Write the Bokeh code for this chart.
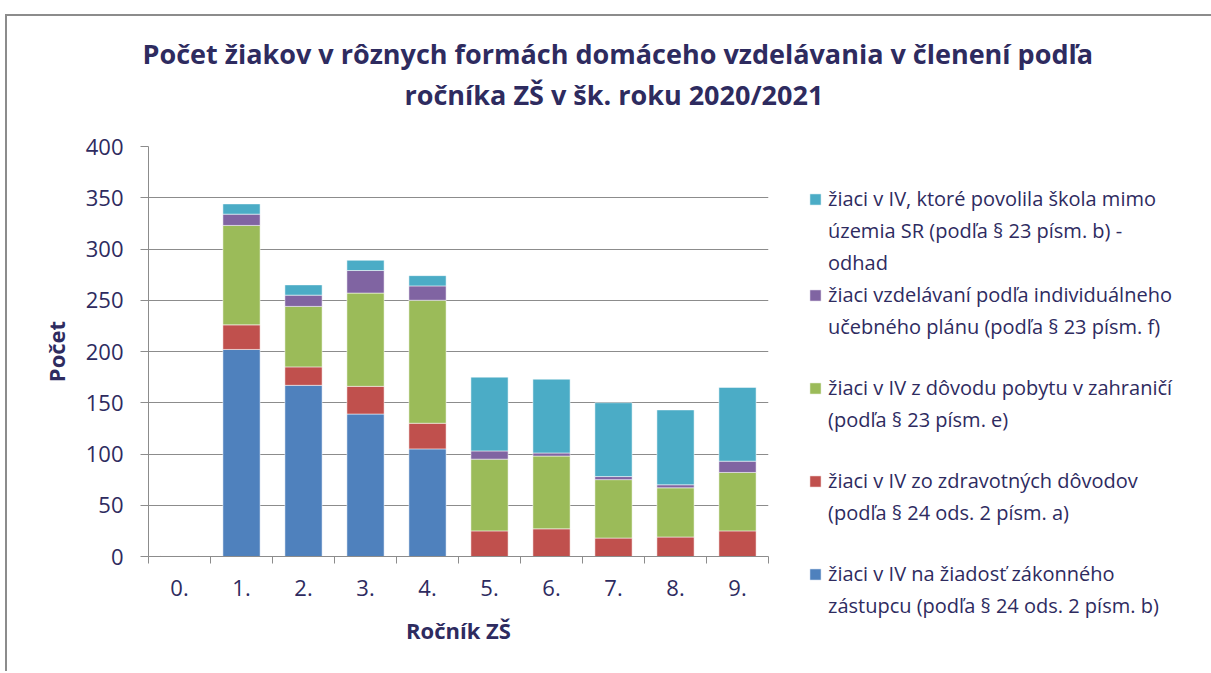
from bokeh.plotting import figure
from bokeh.models import Range1d, FixedTicker, Legend, LegendItem, Title, ColumnDataSource
from bokeh.embed import file_html
from bokeh.resources import INLINE

categories = ["0.", "1.", "2.", "3.", "4.", "5.", "6.", "7.", "8.", "9."]
na_ziadost = [0, 202, 167, 139, 105, 0, 0, 0, 0, 0]
zdravotne = [1, 24, 18, 27, 25, 25, 27, 18, 19, 25]
zahranicie = [0, 97, 59, 91, 120, 70, 71, 57, 48, 57]
ivp = [0, 11, 11, 22, 14, 8, 3, 3, 3, 11]
mimo_sr = [0, 10, 10, 10, 10, 72, 72, 72, 73, 72]

series_keys = ["na_ziadost", "zdravotne", "zahranicie", "ivp", "mimo_sr"]
series_labels = [
    "žiaci v IV na žiadosť zákonného\nzástupcu (podľa § 24 ods. 2 písm. b)",
    "žiaci v IV zo zdravotných dôvodov\n(podľa § 24 ods. 2 písm. a)",
    "žiaci v IV z dôvodu pobytu v zahraničí\n(podľa § 23 písm. e)",
    "žiaci vzdelávaní podľa individuálneho\nučebného plánu (podľa § 23 písm. f)",
    "žiaci v IV, ktoré povolila škola mimo\núzemia SR (podľa § 23 písm. b) -\nodhad",
]
colors = ["#4F81BD", "#C0504D", "#9BBB59", "#8064A2", "#4BACC6"]

title_lines = ["Počet žiakov v rôznych formách domáceho vzdelávania v členení podľa",
               "ročníka ZŠ v šk. roku 2020/2021"]
y_ticks = [0, 50, 100, 150, 200, 250, 300, 350, 400]

TXT = "#2E2B5F"
GRID = "#8C8C8C"
FONT = "Open Sans"

x_idx = list(range(len(categories)))
source = ColumnDataSource(dict(x=x_idx, na_ziadost=na_ziadost, zdravotne=zdravotne,
                               zahranicie=zahranicie, ivp=ivp, mimo_sr=mimo_sr))

# the chart box of the original: grey border on top and left, starting at (5, 14)
p = figure(frame_width=620, frame_height=410, min_border_left=141, min_border_top=130,
           min_border_bottom=115, min_border_right=433,
           x_range=Range1d(-0.5, len(categories) - 0.5), y_range=Range1d(0, 400),
           output_backend="svg", toolbar_location=None, title=None)
p.styles = {"margin-top": "14px", "margin-left": "5px",
            "border-top": "2px solid #8C8C8C", "border-left": "2px solid #8C8C8C"}

renderers = p.vbar_stack(series_keys, x="x", width=0.6, color=colors, source=source,
                         line_color="white", line_alpha=0.5, line_width=1)

# titles: a thin spacer closest to the plot, then line 2, then line 1
spacer = Title(text=" ", text_font_size="1px", standoff=30)
t2 = Title(text=title_lines[1], align="left", offset=256, standoff=2,
           text_font=FONT, text_font_size="27px", text_font_style="bold", text_color=TXT)
t1 = Title(text=title_lines[0], align="left", offset=-6, standoff=2,
           text_font=FONT, text_font_size="27px", text_font_style="bold", text_color=TXT)
p.add_layout(spacer, "above")
p.add_layout(t2, "above")
p.add_layout(t1, "above")

p.outline_line_color = None
p.xgrid.visible = False
p.ygrid.grid_line_color = GRID
p.ygrid.grid_line_width = 1

yax = p.yaxis[0]
yax.ticker = FixedTicker(ticks=y_ticks)
yax.axis_line_color = GRID
yax.major_tick_line_color = GRID
yax.major_tick_out = 8
yax.major_tick_in = 0
yax.minor_tick_line_color = None
yax.major_label_text_font = FONT
yax.major_label_text_font_size = "22px"
yax.major_label_text_color = TXT
yax.major_label_standoff = 17
yax.axis_label = "Počet"
yax.axis_label_text_font = FONT
yax.axis_label_text_font_size = "22px"
yax.axis_label_text_font_style = "bold"
yax.axis_label_text_color = TXT
yax.axis_label_standoff = 12

xax = p.xaxis[0]
xax.ticker = FixedTicker(ticks=x_idx, minor_ticks=[i - 0.5 for i in range(len(categories) + 1)])
xax.major_label_overrides = {i: c for i, c in zip(x_idx, categories)}
xax.axis_line_color = GRID
xax.major_tick_line_color = None
xax.major_tick_out = 0
xax.major_tick_in = 0
xax.minor_tick_line_color = GRID
xax.minor_tick_out = 7
xax.minor_tick_in = 0
xax.major_label_text_font = FONT
xax.major_label_text_font_size = "22px"
xax.major_label_text_color = TXT
xax.major_label_standoff = 16
xax.axis_label = "Ročník ZŠ"
xax.axis_label_text_font = FONT
xax.axis_label_text_font_size = "22px"
xax.axis_label_text_font_style = "bold"
xax.axis_label_text_color = TXT
xax.axis_label_standoff = 16

# legend: one row per text line, glyph on the first line of each entry,
# entries evenly spaced (3 rows each) as in the original
items = []
order = list(reversed(list(zip(series_labels, renderers))))
for k, (lab, r) in enumerate(order):
    lines = lab.split("\n")
    for j, ln in enumerate(lines):
        items.append(LegendItem(label=ln, renderers=[r] if j == 0 else []))
    if k < len(order) - 1:
        for _ in range(3 - len(lines)):
            items.append(LegendItem(label=" ", renderers=[]))

legend = Legend(items=items, location=(40, -63), margin=0, padding=0,
                spacing=5, glyph_width=14, glyph_height=14, label_standoff=6, label_height=24,
                label_text_font=FONT, label_text_font_size="20px", label_text_color=TXT,
                border_line_color=None, background_fill_alpha=0)
p.add_layout(legend, "right")

open("out.html", "w").write(file_html(p, INLINE))
